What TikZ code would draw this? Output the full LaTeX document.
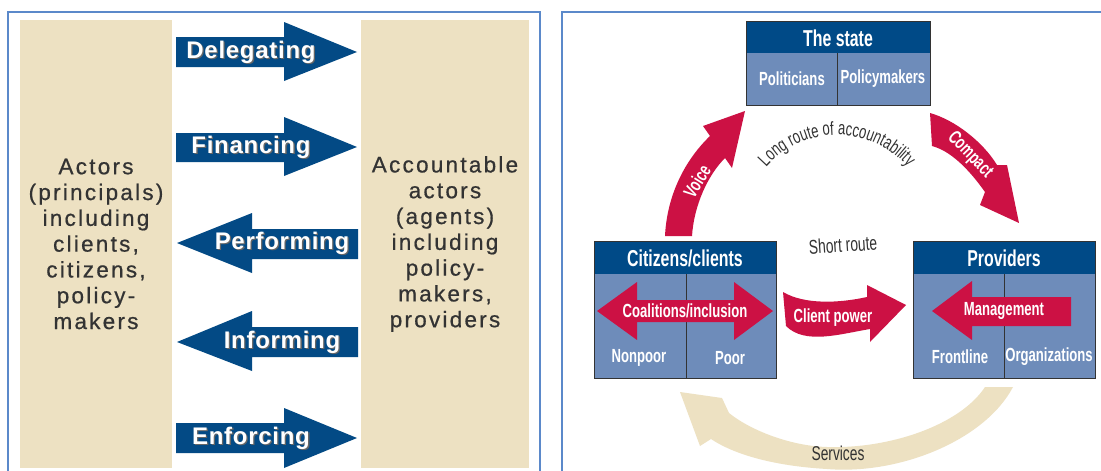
\documentclass[tikz,border=0pt]{standalone}
\usepackage{fontspec}
\setmainfont{Liberation Sans}
\newfontfamily\widesans[LetterSpace=10, FakeBold=0.7]{Liberation Sans}
\newfontfamily\arrowsans[LetterSpace=3]{Liberation Sans}
\newfontfamily\narrowsans[FakeStretch=0.69]{Liberation Sans}
\usetikzlibrary{decorations.text}

\definecolor{frameblue}{HTML}{5B89CA}
\definecolor{beige}{HTML}{EDE1C2}
\definecolor{navy}{HTML}{034A85}
\definecolor{boxnavy}{HTML}{004A87}
\definecolor{boxlight}{HTML}{6E8CBA}
\definecolor{crimson}{HTML}{CC1144}
\definecolor{inkgray}{HTML}{333333}

\tikzset{
  frame/.style={frameblue, line width=2pt},
  blockarrow/.style={fill=navy},
  arrowlabel/.style={text=white, font=\arrowsans\bfseries\fontsize{24}{24}\selectfont, inner sep=0pt},
  arrowshadow/.style={text=black!60, font=\arrowsans\bfseries\fontsize{24}{24}\selectfont, inner sep=0pt},
  columntext/.style={text=inkgray, align=center, font=\widesans\fontsize{22.5}{25.8}\selectfont, inner sep=0pt},
  boxedge/.style={draw=inkgray, line width=0.9pt},
  headtext/.style={text=white, font=\narrowsans\bfseries\fontsize{23}{23}\selectfont, inner sep=0pt},
  celltext/.style={text=white, font=\narrowsans\bfseries\fontsize{19}{19}\selectfont, inner sep=0pt},
  routetext/.style={text=inkgray, font=\narrowsans\fontsize{20}{20}\selectfont, inner sep=0pt},
  redarrow/.style={fill=crimson},
}

\begin{document}
\begin{tikzpicture}[x=1pt,y=-1pt]
\useasboundingbox (0,0) rectangle (1101,471);
\clip (0,0) rectangle (1101,471);
\fill[white] (0,0) rectangle (1101,471);

% ---------- left panel: principals and agents ----------
\draw[frame] (8,490) -- (8,12) -- (540,12) -- (540,490);
\fill[beige] (20,20) rectangle (172,468);
\fill[beige] (361,20) rectangle (529,468);

\node[columntext] (principals) at (96,244) {Actors\\(principals)\\including\\clients,\\citizens,\\policy-\\makers};
\node[columntext] (agents) at (445,244) {Accountable\\actors\\(agents)\\including\\policy-\\makers,\\providers};

% block arrows between the two columns
\fill[blockarrow] (176,37) -- (284,37) -- (284,22) -- (357,52) -- (284,81) -- (284,67) -- (176,67) -- cycle;
\fill[blockarrow] (176,133) -- (284,133) -- (284,117) -- (357,147) -- (284,176) -- (284,162) -- (176,162) -- cycle;
\fill[blockarrow] (358,229) -- (252,229) -- (252,213) -- (177,243) -- (252,273) -- (252,259) -- (358,259) -- cycle;
\fill[blockarrow] (358,327) -- (252,327) -- (252,311) -- (177,342) -- (252,371) -- (252,357) -- (358,357) -- cycle;
\fill[blockarrow] (176,423) -- (284,423) -- (284,408) -- (357,438) -- (284,468) -- (284,453) -- (176,453) -- cycle;

\node[arrowshadow] at (252.3,53.3) {Delegating};
\node[arrowlabel] (delegating) at (251,52) {Delegating};
\node[arrowshadow] at (252.3,148.3) {Financing};
\node[arrowlabel] (financing) at (251,147) {Financing};
\node[arrowshadow] at (283.3,244.3) {Performing};
\node[arrowlabel] (performing) at (282,243) {Performing};
\node[arrowshadow] at (283.3,343.3) {Informing};
\node[arrowlabel] (informing) at (282,342) {Informing};
\node[arrowshadow] at (252.3,439.3) {Enforcing};
\node[arrowlabel] (enforcing) at (251,438) {Enforcing};

% ---------- right panel: routes of accountability ----------
\draw[frame] (562,490) -- (562,12) -- (1120,12);

% services (drawn first, beige)
\fill[beige] (1013,387) .. controls (985,440) and (900,475) .. (827,469)
  .. controls (775,466) and (735,455) .. (711,439) -- (700,446) -- (680,392) -- (722,398) -- (729,413)
  .. controls (750,430) and (790,446) .. (827,447)
  .. controls (890,449) and (960,425) .. (985,387) -- cycle;
\node[routetext] (services) at (838,453) {Services};

% the state
\fill[boxnavy] (746,21) rectangle (930,53);
\fill[boxlight] (746,53) rectangle (930,105);
\draw[boxedge] (746,21) rectangle (930,105);
\draw[boxedge] (837,53) -- (837,105);
\node[headtext] (state) at (838,38) {The state};
\node[celltext] (politicians) at (792,79) {Politicians};
\node[celltext] (policymakers) at (883,79) {Policymakers};

% citizens/clients
\fill[boxnavy] (594,241) rectangle (776,274);
\fill[boxlight] (594,274) rectangle (776,378);
\draw[boxedge] (594,241) rectangle (776,378);
\draw[boxedge] (686,274) -- (686,378);
\node[headtext] (citizens) at (685,258) {Citizens/clients};
\node[celltext] (nonpoor) at (639,358) {Nonpoor};
\node[celltext] (poor) at (730,358) {Poor};

% providers
\fill[boxnavy] (913,241) rectangle (1095,274);
\fill[boxlight] (913,274) rectangle (1095,378);
\draw[boxedge] (913,241) rectangle (1095,378);
\draw[boxedge] (1004,274) -- (1004,378);
\node[headtext] (providers) at (1004,258) {Providers};
\node[celltext] (frontline) at (960,357) {Frontline};
\node[celltext] (organizations) at (1049,357) {Organizations};

% coalitions/inclusion double arrow
\fill[redarrow] (597,311) -- (637,282) -- (637,300) -- (734,300) -- (734,282) -- (773,311)
  -- (734,340) -- (734,322) -- (637,322) -- (637,340) -- cycle;
\node[celltext] (coalitions) at (685,311) {Coalitions/inclusion};

% management arrow
\fill[redarrow] (932,311) -- (972,281) -- (972,297) -- (1071,297) -- (1071,326) -- (972,326) -- (972,340) -- cycle;
\node[celltext] (management) at (1004,311) {Management};

% voice
\fill[redarrow] (665,236) .. controls (667,195) and (685,160) .. (710,136) -- (703,126) -- (745,111)
  -- (732,168) -- (725,158) .. controls (708,175) and (694,205) .. (692,236) -- cycle;
\node[celltext, rotate=58] (voice) at (697,181) {Voice};

% compact
\fill[redarrow] (930,113) .. controls (955,120) and (983,142) .. (997,165) -- (1007,165) -- (1019,223)
  -- (980,205) -- (985,192) .. controls (975,178) and (955,152) .. (932,146) -- cycle;
\node[celltext, rotate=-46] (compact) at (970,155) {Compact};

% client power
\fill[redarrow] (783,292) .. controls (805,305) and (840,303) .. (867,297) -- (867,285) -- (906,305)
  -- (870,342) -- (870,329) .. controls (840,334) and (805,345) .. (786,326) -- cycle;
\node[celltext] (clientpower) at (833,318) {Client power};

% route labels
\node[routetext, rotate=4] (shortroute) at (843,245) {Short route};
\path[decorate, decoration={text along path, text align=center, text color=inkgray,
  text={|\narrowsans\fontsize{19}{19}\selectfont|Long route of accountability}}]
  (837,229) ++(214:94) arc[start angle=214, end angle=326, radius=94];
\end{tikzpicture}
\end{document}
